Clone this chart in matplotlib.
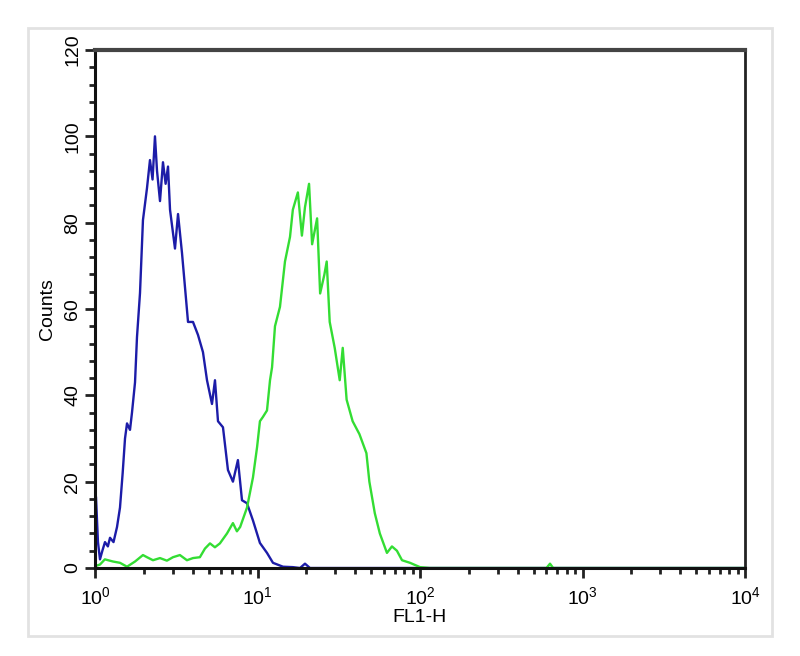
import matplotlib
matplotlib.use("Agg")
import matplotlib.pyplot as plt
from matplotlib.patches import Rectangle
from matplotlib.ticker import LogLocator, MultipleLocator, LogFormatterMathtext, NullFormatter

plt.rcParams['font.family'] = ['Liberation Sans', 'DejaVu Sans']

# Blue histogram (control)
blue_x = [1.0, 1.014, 1.043, 1.073, 1.11, 1.152, 1.20, 1.237, 1.30, 1.366, 1.425, 1.48, 1.530, 1.574,
          1.642, 1.689, 1.763, 1.813, 1.892, 1.973, 2.089, 2.179, 2.26, 2.339, 2.408, 2.512,
          2.620, 2.72, 2.814, 2.895, 3.106, 3.243, 3.430, 3.580, 3.736, 4.009, 4.303, 4.618,
          4.889, 5.247, 5.474, 5.713, 6.131, 6.579, 7.061, 7.578, 8.027, 8.615, 9.380, 10.35,
          11.44, 12.45, 14.35, 16.5, 18.27, 19.60, 21.03, 25.0, 40.0, 100.0, 1000.0, 10000.0]
blue_y = [0, 16.5, 6, 2, 4, 6, 5, 7, 6, 9.5, 14, 22, 30, 33.5,
          32, 36, 43, 53.5, 63.7, 80.6, 88, 94.5, 90, 100, 92, 85,
          94, 89, 93, 83, 74, 82, 73, 65, 57, 57, 54, 50,
          43.5, 38, 43.5, 34, 32.6, 22.7, 20, 25, 15.7, 15, 11, 5.8,
          3.5, 1.2, 0.3, 0.2, 0, 1.0, 0, 0, 0, 0, 0, 0]

# Green histogram (antibody stained)
green_x = [1.0, 1.014, 1.073, 1.15, 1.291, 1.425, 1.574, 1.763, 1.973, 2.089, 2.274, 2.512, 2.77,
           3.02, 3.33, 3.68, 4.01, 4.42, 4.75, 5.10, 5.47, 5.87, 6.49, 7.06, 7.47, 7.82, 8.62,
           9.38, 9.94, 10.35, 10.8, 11.44, 11.94, 12.29, 12.81, 13.75, 14.76, 15.85, 16.50,
           17.72, 18.76, 19.60, 20.76, 21.68, 23.27, 24.29, 25.8, 26.66, 27.82, 29.86, 32.06,
           33.46, 35.35, 38.5, 42.4, 46.8, 48.8, 52.7, 56.6, 62.6, 67.2, 72.1, 77.5, 86.8,
           100.0, 115.0, 600.0, 631.0, 660.0, 10000.0]
green_y = [0, 0.5, 0.8, 2, 1.5, 1.2, 0.3, 1.5, 3, 2.5, 1.8, 2.3, 1.7,
           2.5, 3, 1.8, 2.3, 2.5, 4.5, 5.7, 4.8, 5.7, 8, 10.4, 8.5, 9.5, 14,
           21, 28, 34, 35, 36.5, 43.5, 46.5, 56, 60.5, 71, 76.7, 83,
           87, 77, 83.6, 89, 75, 81, 63.6, 68, 71, 57, 51, 43.5,
           51, 39, 34, 31, 26.6, 20, 12.7, 8, 3.5, 5, 4, 1.8, 1.2,
           0.2, 0, 0, 1.0, 0, 0]

y_ticks = [0, 20, 40, 60, 80, 100, 120]

fig = plt.figure(figsize=(8, 6.56), dpi=100)
fig.patches.append(Rectangle((28/800, 1-636/656), (772-28)/800, (636-28)/656,
                             transform=fig.transFigure, fill=False,
                             edgecolor='#e2e2e2', linewidth=2))

ax = fig.add_axes([95/800, 88/656, 650/800, 518/656])
ax.plot(blue_x, blue_y, color='#1c1ca8', linewidth=1.7)
ax.plot(green_x, green_y, color='#33dd33', linewidth=1.7)

ax.set_xscale('log')
ax.set_xlim(1, 10000)
ax.set_ylim(0, 120)
ax.set_yticks(y_ticks)
ax.yaxis.set_minor_locator(MultipleLocator(4))
ax.xaxis.set_major_locator(LogLocator(base=10))
ax.xaxis.set_minor_locator(LogLocator(base=10, subs=range(2, 10)))
ax.xaxis.set_minor_formatter(NullFormatter())
ax.xaxis.set_major_formatter(LogFormatterMathtext())

for lab in ax.get_yticklabels():
    lab.set_rotation(90)
    lab.set_va('center')

ax.tick_params(axis='both', which='major', direction='out', length=7, width=2,
               labelsize=14, color='#222222')
ax.tick_params(axis='x', which='major', pad=6)
ax.tick_params(axis='y', which='major', pad=3)
ax.tick_params(axis='both', which='minor', direction='out', length=4, width=2, color='#222222')

ax.set_xlabel('FL1-H', fontsize=14, labelpad=1)
ax.set_ylabel('Counts', fontsize=14, labelpad=6)

ax.spines['left'].set_linewidth(2.2)
ax.spines['bottom'].set_linewidth(2.2)
ax.spines['left'].set_color('#111111')
ax.spines['bottom'].set_color('#111111')
ax.spines['top'].set_linewidth(3)
ax.spines['top'].set_color('#444444')
ax.spines['right'].set_linewidth(2)
ax.spines['right'].set_color('#222222')

fig.savefig('out.png', dpi=100)
